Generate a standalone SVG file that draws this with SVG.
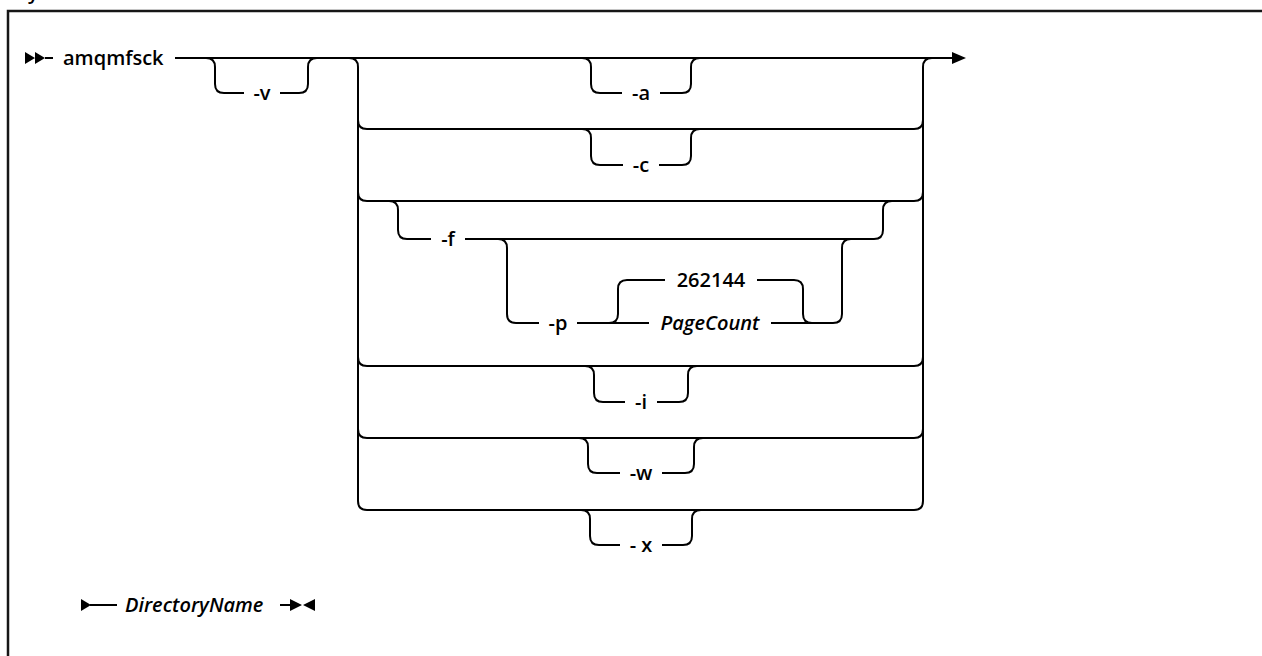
<svg xmlns="http://www.w3.org/2000/svg" width="1262" height="656" viewBox="0 0 1262 656">
<style>
.ln{fill:none;stroke:#000;stroke-width:2;stroke-linecap:butt}
.fr{fill:none;stroke:#161616;stroke-width:2.5}
.mk{fill:#000;stroke:none}
.t{font-family:"Open Sans","Liberation Sans",sans-serif;font-size:20px;font-weight:600;fill:#000}
.m{text-anchor:middle}
.it{font-style:italic}
</style>
<rect width="1262" height="656" fill="#fff"/>
<g id="frame">
<path class="fr" d="M8,656 V11 H1262"/>
<text class="t" x="28" y="-1" font-weight="bold" font-size="22">y</text>
</g>
<g id="connectors">
<path class="ln" d="M45,58 H53 M175,58 H952"/>
<path class="ln" d="M206,58 Q215,58 215,67 V84 Q215,93 224,93 H244 M280,93 H299 Q308,93 308,84 V67 Q308,58 317,58"/>
<path class="ln" d="M349,58 Q358,58 358,67 V501 Q358,510 367,510"/>
<path class="ln" d="M358,120 Q358,129 367,129 M358,192 Q358,201 367,201 M358,357 Q358,366 367,366 M358,429 Q358,438 367,438"/>
<path class="ln" d="M367,129 H914 Q923,129 923,120 M367,201 H914 Q923,201 923,192 M367,366 H914 Q923,366 923,357 M367,438 H914 Q923,438 923,429 M367,510 H914 Q923,510 923,501"/>
<path class="ln" d="M923,501 V67 Q923,58 932,58"/>
<path class="ln" d="M582,58 Q591,58 591,67 V84 Q591,93 600,93 H622 M660,93 H682 Q691,93 691,84 V67 Q691,58 700,58"/>
<path class="ln" d="M582,129 Q591,129 591,138 V156 Q591,165 600,165 H623 M659,165 H682 Q691,165 691,156 V138 Q691,129 700,129"/>
<path class="ln" d="M389,201 Q398,201 398,210 V230 Q398,239 407,239 H431 M465,239 H874 Q883,239 883,230 V210 Q883,201 892,201"/>
<path class="ln" d="M498,239 Q507,239 507,248 V314 Q507,323 516,323 H539 M577,323 H649 M771,323 H833 Q842,323 842,314 V248 Q842,239 851,239"/>
<path class="ln" d="M609,323 Q618,323 618,314 V289 Q618,280 627,280 H665 M757,280 H794 Q803,280 803,289 V314 Q803,323 812,323"/>
<path class="ln" d="M585,366 Q594,366 594,375 V393 Q594,402 603,402 H625 M657,402 H679 Q688,402 688,393 V375 Q688,366 697,366"/>
<path class="ln" d="M579,438 Q588,438 588,447 V464 Q588,473 597,473 H620 M662,473 H685 Q694,473 694,464 V447 Q694,438 703,438"/>
<path class="ln" d="M581,510 Q590,510 590,519 V536 Q590,545 599,545 H620 M662,545 H683 Q692,545 692,536 V519 Q692,510 701,510"/>
<path class="ln" d="M90,605 H117 M280,605 H292"/>
<path class="mk" d="M25,52 L35,58 L25,64 Z M35,52 L45,58 L35,64 Z"/>
<path class="mk" d="M952,52 L966,58 L952,64 Z"/>
<path class="mk" d="M81,599 L91,605 L81,611 Z"/>
<path class="mk" d="M290,599 L302,605 L290,611 Z M315,599 L303,605 L315,611 Z"/>
</g>
<g id="node-amqmfsck"><text class="t" x="63" y="65">amqmfsck</text></g>
<g id="node-v"><text class="t m" x="262" y="100">-v</text></g>
<g id="node-a"><text class="t m" x="641" y="100">-a</text></g>
<g id="node-c"><text class="t m" x="641" y="172">-c</text></g>
<g id="node-f"><text class="t m" x="448" y="246">-f</text></g>
<g id="node-p"><text class="t m" x="558" y="330">-p</text></g>
<g id="node-262144"><text class="t m" x="711" y="287">262144</text></g>
<g id="node-pagecount"><text class="t m it" x="710" y="330">PageCount</text></g>
<g id="node-i"><text class="t m" x="641" y="409">-i</text></g>
<g id="node-w"><text class="t m" x="641" y="480">-w</text></g>
<g id="node-x"><text class="t m" x="641" y="552">- x</text></g>
<g id="node-directoryname"><text class="t it" x="125" y="612">DirectoryName</text></g>
</svg>
